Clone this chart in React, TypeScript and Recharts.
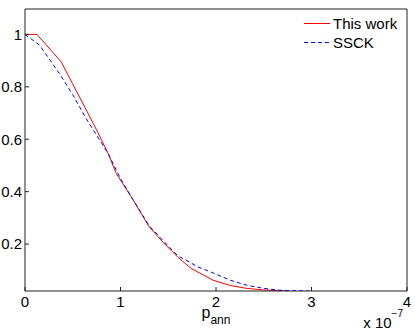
import React from 'react'
import { LineChart, Line, XAxis, YAxis } from 'recharts'

// x values are in units of 1e-7
const thisWorkX = [0, 0.125, 0.38, 0.5, 0.63, 0.76, 0.87, 0.955, 1.13, 1.3, 1.45, 1.6, 1.74, 1.97, 2.15, 2.32, 2.5, 2.73]
const thisWorkY = [1, 1, 0.895, 0.81, 0.72, 0.628, 0.546, 0.47, 0.37, 0.266, 0.205, 0.15, 0.107, 0.062, 0.042, 0.031, 0.025, 0.021]

const ssckX = [0, 0.15, 0.36, 0.5, 0.64, 0.87, 1.0, 1.13, 1.3, 1.41, 1.6, 1.72, 1.81, 1.97, 2.15, 2.32, 2.5, 2.66, 2.8, 2.98]
const ssckY = [1, 0.96, 0.851, 0.77, 0.679, 0.546, 0.45, 0.37, 0.27, 0.227, 0.155, 0.132, 0.113, 0.09, 0.062, 0.043, 0.031, 0.024, 0.022, 0.021]

const xTicks = [0, 1, 2, 3, 4]
const yTicks = [0.2, 0.4, 0.6, 0.8, 1]

const thisWork = thisWorkX.map((x, i) => ({ x, y: thisWorkY[i] }))
const ssck = ssckX.map((x, i) => ({ x, y: ssckY[i] }))

const font = '"Liberation Sans", Arial, Helvetica, sans-serif'
const axisColor = '#222'
const tickStyle = { fontSize: 15, fill: '#000', fontFamily: font }

function LegendBox() {
  const row = (color: string, dash: string | undefined, text: string) => (
    <div style={{ display: 'flex', alignItems: 'center', height: 19 }}>
      <svg width={27} height={19} style={{ display: 'block' }}>
        <line x1={0} x2={26} y1={9.5} y2={9.5} stroke={color} strokeWidth={1} strokeDasharray={dash} />
      </svg>
      <span style={{ fontSize: 15, fontFamily: font, marginLeft: 2, color: '#000', lineHeight: '19px' }}>{text}</span>
    </div>
  )
  return (
    <div style={{ position: 'absolute', top: 14, left: 304 }}>
      {row('#ff0000', undefined, 'This work')}
      {row('#0000ff', '4 3', 'SSCK')}
    </div>
  )
}

function XLabel(props: any) {
  const vb = props.viewBox || {}
  const cx = vb.x + vb.width / 2
  return (
    <g fontFamily={font} fill="#000">
      <text x={cx} y={vb.y + 27} textAnchor="middle" fontSize={16}>
        p<tspan fontSize={12} dy={6}>ann</tspan>
      </text>
      <text x={vb.x + vb.width - 4} y={vb.y + 37} textAnchor="end" fontSize={15}>
        x 10<tspan fontSize={10} dy={-11}>−7</tspan>
      </text>
    </g>
  )
}

export default function App() {
  return (
    <div style={{ position: 'absolute', left: 0, top: 0, width: 415, height: 332, background: '#fff' }}>
      <LineChart width={415} height={332} margin={{ top: 8, right: 7, bottom: 0, left: 0 }}>
        <XAxis
          xAxisId="bottom"
          type="number"
          dataKey="x"
          domain={[0, 4]}
          ticks={xTicks}
          orientation="bottom"
          height={41}
          tickSize={-4}
          tickMargin={9}
          tick={tickStyle}
          stroke={axisColor}
          label={<XLabel />}
        />
        <XAxis
          xAxisId="top"
          type="number"
          dataKey="x"
          domain={[0, 4]}
          ticks={xTicks}
          orientation="top"
          height={1}
          tickSize={-4}
          tick={false}
          stroke={axisColor}
        />
        <YAxis
          yAxisId="left"
          type="number"
          domain={[0.021, 1.097]}
          allowDataOverflow
          ticks={yTicks}
          width={25}
          tickSize={-4}
          tickMargin={7}
          tick={tickStyle}
          tickFormatter={(v: number) => String(v)}
          stroke={axisColor}
        />
        <YAxis
          yAxisId="right"
          orientation="right"
          type="number"
          domain={[0.021, 1.097]}
          allowDataOverflow
          ticks={yTicks}
          width={1}
          tickSize={-4}
          tick={false}
          stroke={axisColor}
        />
        <Line
          xAxisId="bottom"
          yAxisId="left"
          data={thisWork}
          dataKey="y"
          type="linear"
          stroke="#ff0000"
          strokeWidth={1}
          dot={false}
          name="This work"
          isAnimationActive={false}
        />
        <Line
          xAxisId="bottom"
          yAxisId="left"
          data={ssck}
          dataKey="y"
          type="linear"
          stroke="#0000ff"
          strokeWidth={1}
          strokeDasharray="4 3"
          dot={false}
          name="SSCK"
          isAnimationActive={false}
        />
      </LineChart>
      <LegendBox />
    </div>
  )
}
